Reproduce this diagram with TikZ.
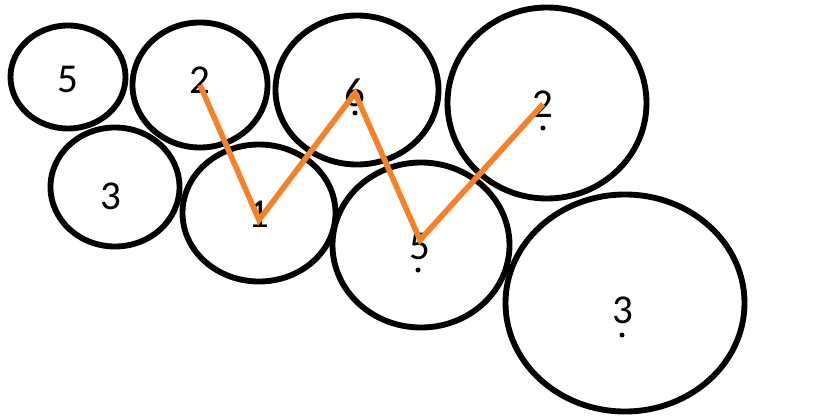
\documentclass[tikz,border=0pt]{standalone}
\usepackage{fontspec}
\setmainfont{Carlito}
\usetikzlibrary{shapes.geometric}
\definecolor{zigorange}{RGB}{245,130,40}

\begin{document}
\begin{tikzpicture}[
    x=0.03cm, y=-0.03cm,
    ring/.style 2 args={
        ellipse, draw, line width=5pt, inner sep=0pt, minimum width=#1, minimum height=#2
    },
    num/.style={
        font=\fontsize{35}{40}\selectfont, inner sep=0pt
    },
    zig/.style={
        draw=zigorange, line width=4.8pt, line join=miter
    },
    mark dot/.style={
        fill=black
    }
]
    \useasboundingbox (0,0) rectangle (815,419);

    % --- rings ---
    \node [ring={3.45cm}{3.09cm}] (topFive) at (68,77) {};
    \node [ring={4.05cm}{3.75cm}] (topTwo) at (200,85) {};
    \node [ring={4.89cm}{4.47cm}] (topSix) at (357,90) {};
    \node [ring={5.97cm}{5.73cm}] (topTwoR) at (547,103) {};
    \node [ring={3.87cm}{3.57cm}] (lowThree) at (115,187) {};
    \node [ring={4.59cm}{4.11cm}] (midOne) at (259,213) {};
    \node [ring={5.31cm}{4.95cm}] (midFive) at (421,245) {};
    \node [ring={7.17cm}{6.51cm}] (bigThree) at (625,303) {};

    % --- numbers ---
    \node [num] (nFive) at (68,79) {5};
    \node [num] (nTwo) at (200,80) {2};
    \node [num] (nSix) at (355,93) {6};
    \node [num] (nTwoR) at (543,104) {2};
    \node [num] (nThree) at (111,196) {3};
    \node [num] (nOne) at (259,214) {1};
    \node [num] (nFiveM) at (420,246) {5};
    \node [num] (nThreeB) at (623,310) {3};

    % --- dots ---
    \fill [mark dot] (355,113) circle (2.5);
    \fill [mark dot] (418,270) circle (2.5);
    \fill [mark dot] (543,128) circle (2.5);
    \fill [mark dot] (622,335) circle (2.5);

    % --- zigzag ---
    \path [zig] ([yshift=-0.15cm]nTwo.center) -- ([yshift=-0.18cm]nOne.center) -- (nSix.center)
        -- ([yshift=0.18cm]nFiveM.center) -- (nTwoR.center);

\end{tikzpicture}
\end{document}
